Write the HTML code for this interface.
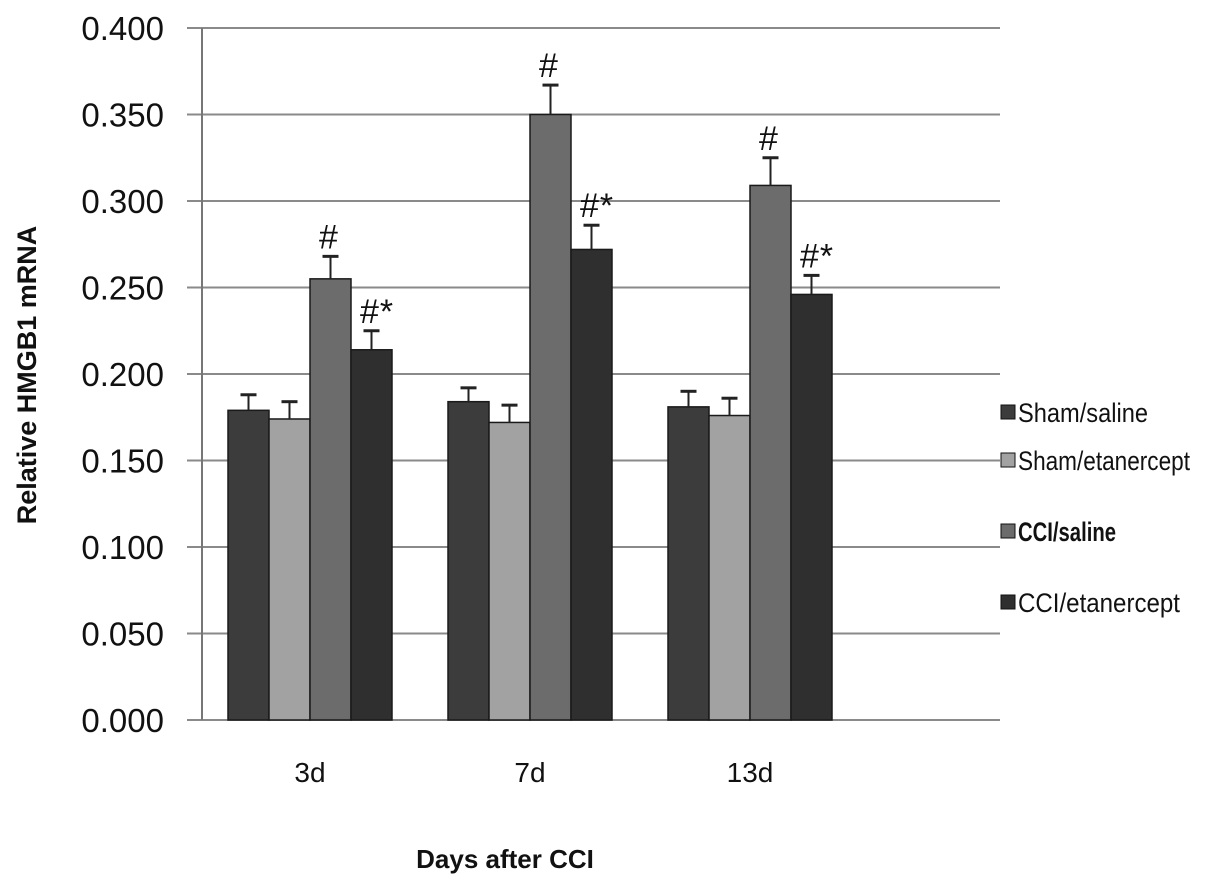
<!DOCTYPE html>
<html><head><meta charset="utf-8"><style>
body{margin:0;background:#fff;}
svg{display:block;font-family:"Liberation Sans",sans-serif;}
</style></head><body>
<svg id="chart" width="1205" height="891"></svg>
<script>
const categories=["3d","7d","13d"];
const seriesNames=["Sham/saline","Sham/etanercept","CCI/saline","CCI/etanercept"];
const shamSaline=[0.179,0.184,0.181];
const shamEtan=[0.174,0.172,0.176];
const cciSaline=[0.255,0.350,0.309];
const cciEtan=[0.214,0.272,0.246];
const errShamSaline=[0.009,0.008,0.009];
const errShamEtan=[0.010,0.010,0.010];
const errCciSaline=[0.013,0.017,0.016];
const errCciEtan=[0.011,0.014,0.011];
const marks=[["","","#","#*"],["","","#","#*"],["","","#","#*"]];
const yTicks=[0,0.05,0.1,0.15,0.2,0.25,0.3,0.35,0.4];
const yTickLabels=["0.000","0.050","0.100","0.150","0.200","0.250","0.300","0.350","0.400"];

const series=[shamSaline,shamEtan,cciSaline,cciEtan];
const errs=[errShamSaline,errShamEtan,errCciSaline,errCciEtan];
const colors=["#3c3c3c","#a2a2a2","#6c6c6c","#2f2f2f"];
const svg=document.getElementById('chart');
const NS="http://www.w3.org/2000/svg";
const y0=720,yTop=28,ymax=0.4;
const yScale=v=>y0-(v/ymax)*(y0-yTop);
const axisX=202,catW=220,catStart=200,barW=41;
const xCat=i=>catStart+catW*i+28;
function el(t,a){const e=document.createElementNS(NS,t);for(const k in a)e.setAttribute(k,a[k]);svg.appendChild(e);return e;}
yTicks.forEach((t,i)=>{
  const g=el('line',{x1:187,x2:1000,y1:yScale(t),y2:yScale(t),stroke:'#8a8a8a','stroke-width':2});
  
  
  const l=el('text',{x:164,y:yScale(t)+12,'text-anchor':'end','font-size':33,fill:'#111'});
  l.textContent=yTickLabels[i];
  
  
});
const ax=el('line',{x1:axisX,x2:axisX,y1:yTop,y2:y0,stroke:'#777','stroke-width':2});


categories.forEach((c,ci)=>{
  series.forEach((s,si)=>{
    const x=xCat(ci)+si*barW, y=yScale(s[ci]);
    const r=el('rect',{x:x,y:y,width:barW,height:y0-y,fill:colors[si],stroke:'#1a1a1a','stroke-width':1.5});
    
    
    const et=yScale(s[ci]+errs[si][ci]);
    const e1=el('line',{x1:x+barW/2,x2:x+barW/2,y1:y,y2:et,stroke:'#222','stroke-width':2});
    
    
    const e2=el('line',{x1:x+barW/2-8,x2:x+barW/2+8,y1:et,y2:et,stroke:'#222','stroke-width':3});
    
    
    if(marks[ci][si]){
      const m=el('text',{x:x+barW/2-12,y:et-8,'font-size':34,'font-style':'italic',fill:'#111'});
      m.textContent=marks[ci][si];
      
      
    }
  });
  const t=el('text',{x:xCat(ci)+2*barW,y:782,'text-anchor':'middle','font-size':28,fill:'#111'});
  t.textContent=c;
  
  
});
const xt=el('text',{x:505,y:868,'text-anchor':'middle','font-size':26,'font-weight':'bold',fill:'#111'});
xt.textContent="Days after CCI";


const yt=el('text',{x:0,y:0,transform:'translate(36,375) rotate(-90)','text-anchor':'middle','font-size':27,'font-weight':'bold',fill:'#111'});
yt.textContent="Relative HMGB1 mRNA";


const legY=[412,460,531,602];
const legW=[130,172,98,162];
seriesNames.forEach((n,i)=>{
  const r=el('rect',{x:1001,y:legY[i]-7,width:14,height:14,fill:colors[i],stroke:'#111'});
  
  
  const t=el('text',{x:1018,y:legY[i]+10,'font-size':27,fill:'#111','font-weight':i==2?'bold':'normal',textLength:legW[i],lengthAdjust:'spacingAndGlyphs'});
  t.textContent=n;
  
  
});
</script>
</body></html>
